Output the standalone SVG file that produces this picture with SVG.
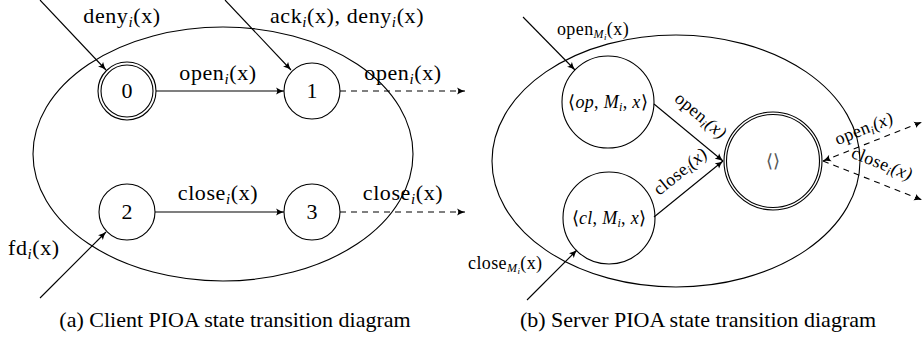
<svg xmlns="http://www.w3.org/2000/svg" width="924" height="342" viewBox="0 0 924 342" font-family="Liberation Serif">
<defs>
<marker id="ah" markerWidth="9" markerHeight="8" refX="8" refY="4" orient="auto" markerUnits="userSpaceOnUse">
<path d="M0,0.5 Q4,3 8,4 Q4,5 0,7.5 Q2.5,4 0,0.5 Z" fill="#000" stroke="none"/>
</marker>
<marker id="ahs" markerWidth="9" markerHeight="8" refX="0" refY="4" orient="auto" markerUnits="userSpaceOnUse">
<path d="M8,0.5 Q4,3 0,4 Q4,5 8,7.5 Q5.5,4 8,0.5 Z" fill="#000" stroke="none"/>
</marker>
</defs>
<rect x="0" y="0" width="924" height="342" fill="#fff"/>

<g id="client-boundary" fill="none" stroke="#000" stroke-width="1.1"><ellipse cx="223" cy="154" rx="190" ry="127"/></g>
<g id="c0"><circle cx="127" cy="91" r="29" fill="none" stroke="#000" stroke-width="1.1"/><circle cx="127" cy="91" r="26" fill="none" stroke="#000" stroke-width="1.1"/><text font-family="Liberation Serif" font-size="22" x="127" y="98" text-anchor="middle">0</text></g>
<g id="c1"><circle cx="312" cy="91" r="28" fill="none" stroke="#000" stroke-width="1.1"/><text font-family="Liberation Serif" font-size="22" x="312" y="98" text-anchor="middle">1</text></g>
<g id="c2"><circle cx="127" cy="212" r="28" fill="none" stroke="#000" stroke-width="1.1"/><text font-family="Liberation Serif" font-size="22" x="127" y="219" text-anchor="middle">2</text></g>
<g id="c3"><circle cx="312" cy="212" r="28" fill="none" stroke="#000" stroke-width="1.1"/><text font-family="Liberation Serif" font-size="22" x="312" y="219" text-anchor="middle">3</text></g>

<g id="server-boundary" fill="none" stroke="#000" stroke-width="1.1"><ellipse cx="676" cy="161" rx="184" ry="126"/></g>
<g id="sop"><circle cx="608" cy="102" r="46" fill="none" stroke="#000" stroke-width="1.1"/><text font-family="Liberation Serif" font-size="18" x="608" y="108" text-anchor="middle" letter-spacing="0.3">⟨<tspan font-style="italic">op</tspan>, <tspan font-style="italic">M</tspan><tspan font-style="italic" font-size="12" dy="3">i</tspan><tspan dy="-3">, </tspan><tspan font-style="italic">x</tspan>⟩</text></g>
<g id="scl"><circle cx="609" cy="218" r="46" fill="none" stroke="#000" stroke-width="1.1"/><text font-family="Liberation Serif" font-size="18" x="609" y="224" text-anchor="middle" letter-spacing="0.3">⟨<tspan font-style="italic">cl</tspan>, <tspan font-style="italic">M</tspan><tspan font-style="italic" font-size="12" dy="3">i</tspan><tspan dy="-3">, </tspan><tspan font-style="italic">x</tspan>⟩</text></g>
<g id="sempty"><circle cx="773" cy="161" r="49" fill="none" stroke="#000" stroke-width="1.1"/><circle cx="773" cy="161" r="46.5" fill="none" stroke="#000" stroke-width="1.1"/><text font-family="Liberation Serif" font-size="18" x="773" y="167" text-anchor="middle" fill="#555">⟨⟩</text></g>

<g id="connectors" fill="none" stroke="#000" stroke-width="1.1">
<line x1="40" y1="0" x2="106" y2="70" marker-end="url(#ah)"/>
<line x1="225" y1="0" x2="291" y2="70" marker-end="url(#ah)"/>
<line x1="156" y1="91" x2="284" y2="91" marker-end="url(#ah)"/>
<line stroke-dasharray="6 5" x1="340" y1="91" x2="465" y2="91" marker-end="url(#ah)"/>
<line x1="40" y1="298" x2="106" y2="232" marker-end="url(#ah)"/>
<line x1="155" y1="212" x2="284" y2="212" marker-end="url(#ah)"/>
<line stroke-dasharray="6 5" x1="340" y1="212" x2="465" y2="212" marker-end="url(#ah)"/>
<line x1="523" y1="17" x2="575" y2="70" marker-end="url(#ah)"/>
<line x1="527" y1="300" x2="577" y2="250" marker-end="url(#ah)"/>
<line x1="654" y1="104" x2="723" y2="161" marker-end="url(#ah)"/>
<line x1="654" y1="217" x2="723" y2="161" marker-end="url(#ah)"/>
<line stroke-dasharray="6 5" x1="823" y1="161" x2="922" y2="122" marker-end="url(#ah)" marker-start="url(#ahs)"/>
<line stroke-dasharray="6 5" x1="823" y1="161" x2="922" y2="200" marker-end="url(#ah)"/>
</g>

<g id="labels">
<text font-family="Liberation Serif" font-size="22" letter-spacing="0.6" x="122" y="23" text-anchor="middle">deny<tspan font-style="italic" font-size="15" dy="4">i</tspan><tspan dy="-4">(x)</tspan></text>
<text font-family="Liberation Serif" font-size="22" letter-spacing="0.6" x="347" y="23" text-anchor="middle">ack<tspan font-style="italic" font-size="15" dy="4">i</tspan><tspan dy="-4">(x), deny</tspan><tspan font-style="italic" font-size="15" dy="4">i</tspan><tspan dy="-4">(x)</tspan></text>
<text font-family="Liberation Serif" font-size="22" letter-spacing="0.6" x="218" y="80" text-anchor="middle">open<tspan font-style="italic" font-size="15" dy="4">i</tspan><tspan dy="-4">(x)</tspan></text>
<text font-family="Liberation Serif" font-size="22" letter-spacing="0.6" x="403" y="80" text-anchor="middle">open<tspan font-style="italic" font-size="15" dy="4">i</tspan><tspan dy="-4">(x)</tspan></text>
<text font-family="Liberation Serif" font-size="22" letter-spacing="0.6" x="218" y="200" text-anchor="middle">close<tspan font-style="italic" font-size="15" dy="4">i</tspan><tspan dy="-4">(x)</tspan></text>
<text font-family="Liberation Serif" font-size="22" letter-spacing="0.6" x="403" y="200" text-anchor="middle">close<tspan font-style="italic" font-size="15" dy="4">i</tspan><tspan dy="-4">(x)</tspan></text>
<text font-family="Liberation Serif" font-size="22" letter-spacing="0.6" x="8" y="255">fd<tspan font-style="italic" font-size="15" dy="4">i</tspan><tspan dy="-4">(x)</tspan></text>

<text font-family="Liberation Serif" font-size="18" letter-spacing="0.4" x="593" y="35" text-anchor="middle">open<tspan font-style="italic" font-size="12" dy="3">M</tspan><tspan font-style="italic" font-size="9" dy="2">i</tspan><tspan dy="-5">(x)</tspan></text>
<text font-family="Liberation Serif" font-size="18" letter-spacing="0.4" x="468" y="269">close<tspan font-style="italic" font-size="12" dy="3">M</tspan><tspan font-style="italic" font-size="9" dy="2">i</tspan><tspan dy="-5">(x)</tspan></text>
<text font-family="Liberation Serif" font-size="18" letter-spacing="0.4" transform="translate(697,120) rotate(40)" text-anchor="middle">open<tspan font-style="italic" font-size="12" dy="3">i</tspan><tspan font-style="italic" dy="-3">(x)</tspan></text>
<text font-family="Liberation Serif" font-size="18" letter-spacing="0.4" transform="translate(684,176) rotate(-39)" text-anchor="middle">close<tspan font-style="italic" font-size="12" dy="3">i</tspan><tspan font-style="italic" dy="-3">(x)</tspan></text>
<text font-family="Liberation Serif" font-size="18" letter-spacing="0.4" transform="translate(866,134) rotate(-21.5)" text-anchor="middle">open<tspan font-style="italic" font-size="12" dy="3">i</tspan><tspan font-style="italic" dy="-3">(x)</tspan></text>
<text font-family="Liberation Serif" font-size="18" letter-spacing="0.4" transform="translate(880,169) rotate(21.5)" text-anchor="middle">close<tspan font-style="italic" font-size="12" dy="3">i</tspan><tspan font-style="italic" dy="-3">(x)</tspan></text>

<text font-family="Liberation Serif" font-size="22" x="235" y="327" text-anchor="middle">(a) Client PIOA state transition diagram</text>
<text font-family="Liberation Serif" font-size="22" x="698" y="327" text-anchor="middle">(b) Server PIOA state transition diagram</text>
</g>
</svg>
